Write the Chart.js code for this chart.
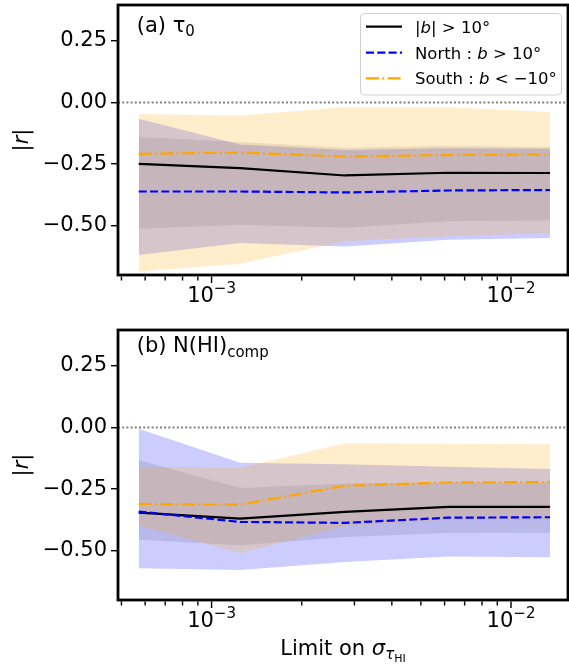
<!DOCTYPE html>
<html>
<head>
<meta charset="utf-8">
<script src="https://cdn.jsdelivr.net/npm/chart.js@4.4.1/dist/chart.umd.min.js"></script>
<style>
  html, body { margin: 0; padding: 0; background: #fff; }
  #wrap { position: relative; width: 569px; height: 666px; }
  canvas { position: absolute; left: 0; }
</style>
</head>
<body>
<div id="wrap">
  <canvas id="chartTau" width="569" height="325" style="top:0px"></canvas>
  <canvas id="chartNHI" width="569" height="341" style="top:325px"></canvas>
</div>
<script>
// Limite sur sigma_tau (axe x, log)
const limits = [5.71e-4, 1.245e-3, 2.79e-3, 6.17e-3, 1.35e-2];
const xRange = [4.87e-4, 1.55e-2];
const yRange = [-0.70, 0.396];
const yTicks = [-0.5, -0.25, 0, 0.25];
const xMajorTicks = [1e-3, 1e-2];
const xMajorExp = ['\u22123', '\u22122'];
const xMinorTicks = [5e-4, 6e-4, 7e-4, 8e-4, 9e-4, 2e-3, 3e-3, 4e-3, 5e-3, 6e-3, 7e-3, 8e-3, 9e-3];

// (a) tau_0 : |b| > 10, nord, sud
const tauAll   = [-0.249, -0.266, -0.296, -0.285, -0.286];
const tauAllHi = [-0.140, -0.160, -0.183, -0.175, -0.180];
const tauAllLo = [-0.512, -0.496, -0.508, -0.482, -0.478];
const tauNorth   = [-0.361, -0.361, -0.365, -0.357, -0.355];
const tauNorthHi = [-0.066, -0.170, -0.193, -0.185, -0.188];
const tauNorthLo = [-0.619, -0.570, -0.584, -0.557, -0.550];
const tauSouth   = [-0.208, -0.203, -0.219, -0.213, -0.211];
const tauSouthHi = [-0.046, -0.053, -0.019, -0.019, -0.038];
const tauSouthLo = [-0.686, -0.654, -0.563, -0.543, -0.530];

// (b) N(HI)_comp
const nhiAll   = [-0.345, -0.370, -0.342, -0.322, -0.322];
const nhiAllHi = [-0.132, -0.245, -0.227, -0.223, -0.224];
const nhiAllLo = [-0.455, -0.478, -0.444, -0.428, -0.427];
const nhiNorth   = [-0.341, -0.383, -0.387, -0.366, -0.364];
const nhiNorthHi = [-0.005, -0.143, -0.149, -0.159, -0.168];
const nhiNorthLo = [-0.571, -0.578, -0.546, -0.523, -0.526];
const nhiSouth   = [-0.310, -0.313, -0.236, -0.223, -0.221];
const nhiSouthHi = [-0.159, -0.163, -0.064, -0.066, -0.068];
const nhiSouthLo = [-0.397, -0.510, -0.401, -0.374, -0.374];

const FONT = '"DejaVu Sans"';
const DASH_NORTH = [8, 3.3];
const DASH_SOUTH = [13, 3.3, 2, 3.3];
const LEG = 16.5;

function toPts(values) {
    return values.map((v, i) => ({ x: limits[i], y: v }));
}

function band(hi, lo, color, order) {
    return [
        { data: toPts(hi), fill: '+1', backgroundColor: color, borderColor: 'rgba(0,0,0,0)',
          borderWidth: 0, pointRadius: 0, order: order },
        { data: toPts(lo), fill: false, borderColor: 'rgba(0,0,0,0)',
          borderWidth: 0, pointRadius: 0, order: order }
    ];
}

function line(values, color, dash, order) {
    return { data: toPts(values), borderColor: color, borderWidth: 2.2, borderDash: dash,
             pointRadius: 0, fill: false, tension: 0, order: order };
}

function buildDatasets(all, allHi, allLo, north, northHi, northLo, south, southHi, southLo) {
    return [
        line(south, 'orange', DASH_SOUTH, 1),
        line(north, 'blue', DASH_NORTH, 2),
        line(all, '#000000', [], 3),
        { data: [{ x: xRange[0], y: 0 }, { x: xRange[1], y: 0 }], borderColor: '#808080',
          borderWidth: 2, borderDash: [2, 2.2], pointRadius: 0, fill: false, order: 5 },
        ...band(southHi, southLo, 'rgba(255,165,0,0.2)', 8),
        ...band(northHi, northLo, 'rgba(0,0,255,0.2)', 9),
        ...band(allHi, allLo, 'rgba(0,0,0,0.1)', 10)
    ];
}

// petits outils pour le texte "mathtext"
function runFont(r) {
    return (r.italic ? 'italic ' : '') + r.size + 'px ' + FONT;
}
function runsWidth(ctx, runs) {
    let w = 0;
    runs.forEach(r => { ctx.font = runFont(r); w += ctx.measureText(r.text).width; });
    return w;
}
function drawRuns(ctx, runs, x, y) {
    ctx.textAlign = 'left';
    ctx.textBaseline = 'alphabetic';
    runs.forEach(r => {
        ctx.font = runFont(r);
        ctx.fillText(r.text, x, y + (r.dy || 0));
        x += ctx.measureText(r.text).width;
    });
}
function seg(ctx, x1, y1, x2, y2) {
    ctx.beginPath(); ctx.moveTo(x1, y1); ctx.lineTo(x2, y2); ctx.stroke();
}

const decorPlugin = {
    id: 'decor',
    afterDatasetsDraw(chart, args, opts) {
        const ctx = chart.ctx;
        const a = chart.chartArea;
        const xs = chart.scales.x;
        ctx.save();
        ctx.fillStyle = '#000';
        ctx.strokeStyle = '#000';

        // cadre
        ctx.lineWidth = 2.8;
        ctx.strokeRect(a.left, a.top, a.right - a.left, a.bottom - a.top);

        // graduations x
        ctx.lineWidth = 1.4;
        xMinorTicks.forEach(v => {
            const px = xs.getPixelForValue(v);
            seg(ctx, px, a.bottom + 1.4, px, a.bottom + 5.5);
        });
        xMajorTicks.forEach((v, i) => {
            const px = xs.getPixelForValue(v);
            seg(ctx, px, a.bottom + 1.4, px, a.bottom + 8);
            const runs = [{ text: '10', size: 21 }, { text: xMajorExp[i], size: 15, dy: -8.7 }];
            drawRuns(ctx, runs, px - runsWidth(ctx, runs) / 2, a.bottom + 26.5);
        });

        // titre y : |r|
        ctx.save();
        ctx.translate(28, (a.top + a.bottom) / 2);
        ctx.rotate(-Math.PI / 2);
        const yt = [{ text: '|', size: 21 }, { text: 'r', size: 21, italic: true }, { text: '|', size: 21 }];
        drawRuns(ctx, yt, -runsWidth(ctx, yt) / 2, 0);
        ctx.restore();

        // etiquette du panneau
        drawRuns(ctx, opts.label, 136.7, opts.labelY);

        // titre x
        if (opts.xTitle) {
            const xt = [
                { text: 'Limit on ', size: 21 },
                { text: '\u03c3', size: 21, italic: true },
                { text: '\u03c4', size: 15, italic: true, dy: 4 },
                { text: 'HI', size: 11, dy: 7 }
            ];
            drawRuns(ctx, xt, (a.left + a.right) / 2 - runsWidth(ctx, xt) / 2, opts.xTitleY);
        }

        // legende
        if (opts.legend) {
            ctx.beginPath();
            ctx.roundRect(360.5, 13.5, 201, 81.5, 4);
            ctx.fillStyle = 'rgba(255,255,255,0.8)';
            ctx.fill();
            ctx.strokeStyle = '#d0d0d0';
            ctx.lineWidth = 1;
            ctx.stroke();

            const rows = [
                { y: 26.7, color: '#000000', dash: [],
                  runs: [{ text: '|', size: LEG }, { text: 'b', size: LEG, italic: true },
                         { text: '| > 10\u00b0', size: LEG }] },
                { y: 52.7, color: 'blue', dash: DASH_NORTH,
                  runs: [{ text: 'North : ', size: LEG }, { text: 'b', size: LEG, italic: true },
                         { text: ' > 10\u00b0', size: LEG }] },
                { y: 78.3, color: 'orange', dash: DASH_SOUTH,
                  runs: [{ text: 'South : ', size: LEG }, { text: 'b', size: LEG, italic: true },
                         { text: ' < \u221210\u00b0', size: LEG }] }
            ];
            rows.forEach(r => {
                ctx.strokeStyle = r.color;
                ctx.lineWidth = 2.2;
                ctx.setLineDash(r.dash);
                seg(ctx, 366, r.y, 402, r.y);
                ctx.setLineDash([]);
                ctx.fillStyle = '#000';
                drawRuns(ctx, r.runs, 415, r.y + 6);
            });
        }
        ctx.restore();
    }
};

function makeChart(id, datasets, padBottom, decor) {
    return new Chart(document.getElementById(id), {
        type: 'line',
        data: { datasets: datasets },
        plugins: [decorPlugin],
        options: {
            responsive: false,
            animation: false,
            devicePixelRatio: 1,
            layout: { padding: { top: 5, right: 1, left: 0, bottom: padBottom } },
            plugins: {
                legend: { display: false },
                tooltip: { enabled: false },
                decor: decor
            },
            scales: {
                x: {
                    type: 'logarithmic',
                    min: xRange[0],
                    max: xRange[1],
                    display: false
                },
                y: {
                    type: 'linear',
                    min: yRange[0],
                    max: yRange[1],
                    afterBuildTicks: s => { s.ticks = yTicks.map(v => ({ value: v })); },
                    afterFit: s => { s.width = 118; s.paddingTop = 0; s.paddingBottom = 0; },
                    border: { display: false },
                    grid: { drawOnChartArea: false, drawTicks: true, tickLength: 7,
                            color: '#000', lineWidth: 1.4 },
                    ticks: {
                        color: '#000',
                        padding: 4,
                        font: { family: 'DejaVu Sans', size: 21 },
                        callback: v => (v < 0 ? '\u2212' : '') + Math.abs(v).toFixed(2)
                    }
                }
            }
        }
    });
}

makeChart('chartTau',
    buildDatasets(tauAll, tauAllHi, tauAllLo, tauNorth, tauNorthHi, tauNorthLo, tauSouth, tauSouthHi, tauSouthLo),
    50,
    { label: [{ text: '(a) \u03c4', size: 21 }, { text: '0', size: 15, dy: 4 }], labelY: 32.3, legend: true });

makeChart('chartNHI',
    buildDatasets(nhiAll, nhiAllHi, nhiAllLo, nhiNorth, nhiNorthHi, nhiNorthLo, nhiSouth, nhiSouthHi, nhiSouthLo),
    66,
    { label: [{ text: '(b) N(HI)', size: 21 }, { text: 'comp', size: 15, dy: 5 }], labelY: 27.3,
      xTitle: true, xTitleY: 330 });
</script>
</body>
</html>
